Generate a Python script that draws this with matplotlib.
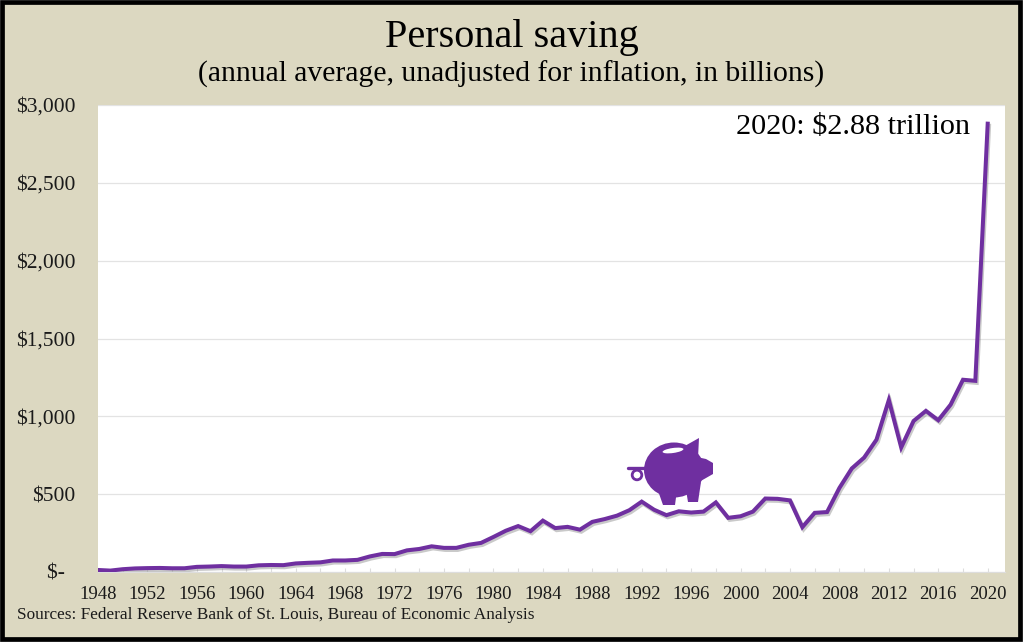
#!/usr/bin/env python3

import matplotlib
matplotlib.use("Agg")
import matplotlib.pyplot as plt
import matplotlib.patheffects as pe
from matplotlib.patches import Circle, Ellipse, Polygon, Rectangle

years = list(range(1948, 2021))
saving = [
    13, 9, 18, 23, 25, 26, 24, 24, 33, 35,
    38, 35, 35, 43, 45, 44, 55, 59, 62, 74,
    74, 78, 100, 116, 115, 139, 148, 165, 155, 155,
    175, 187, 225, 265, 295, 262, 330, 282, 290, 272,
    322, 340, 362, 397, 452, 400, 365, 390, 382, 388,
    447, 348, 358, 388, 472, 470, 460, 288, 380, 385,
    540, 665, 735, 850, 1105, 800, 970, 1035, 975, 1075,
    1235, 1228, 2880,
]
y_ticks = [0, 500, 1000, 1500, 2000, 2500, 3000]
y_labels = ["$-  ", "$500", "$1,000", "$1,500", "$2,000", "$2,500", "$3,000"]
x_label_years = list(range(1948, 2021, 4))

BG = "#DCD8C1"
PURPLE = "#6F2FA0"
W, H = 1024, 643

plt.rcParams["font.family"] = ["Liberation Serif", "DejaVu Serif"]

fig = plt.figure(figsize=(W / 100, H / 100), dpi=100, facecolor=BG)

# plot area in pixels: x 98-1005, y 105-572
ax = fig.add_axes([98 / W, 1 - 572 / H, (1005 - 98) / W, (572 - 105) / H])
ax.set_facecolor("white")
ax.plot(
    years,
    saving,
    color=PURPLE,
    linewidth=2.9,
    solid_joinstyle="miter",
    path_effects=[
        pe.SimpleLineShadow(offset=(1, -1.5), shadow_color="#888888", alpha=0.45),
        pe.Normal(),
    ],
    zorder=3,
)
ax.set_xlim(1948, 2021.4)
ax.set_ylim(0, 3000)
ax.set_yticks(y_ticks)
ax.set_yticklabels(y_labels, fontsize=15.5, color="#1a1a1a")
ax.set_xticks(range(1948, 2021, 2))
ax.set_xticklabels(
    [str(y) if y in x_label_years else "" for y in range(1948, 2021, 2)],
    fontsize=13.5,
    color="#1a1a1a",
)
ax.tick_params(axis="y", length=0, pad=16)
ax.tick_params(axis="x", direction="in", length=3, width=0.8, color="#dddddd", pad=10)
ax.grid(axis="y", color="#e3e3e3", linewidth=0.9)
ax.set_axisbelow(True)
for s in ["top", "right", "left"]:
    ax.spines[s].set_visible(False)
ax.spines["bottom"].set_color("#dddddd")

# overlay in pixel coordinates for the picture, frame and text
ov = fig.add_axes([0, 0, 1, 1], facecolor="none")
ov.set_xlim(0, W)
ov.set_ylim(H, 0)
ov.axis("off")

# outer frame
ov.add_patch(Rectangle((0, 0), W, H, fill=False, ec="white", lw=4, zorder=1))
ov.add_patch(Rectangle((1.5, 1.5), 1018.5, 637.5, fill=False, ec="black", lw=3.4, zorder=2))

ov.text(512, 37, "Personal saving", ha="center", va="center", fontsize=29, color="black")
ov.text(
    511, 74,
    "(annual average, unadjusted for inflation, in billions)",
    ha="center", va="center", fontsize=21.3, color="black",
)
ov.text(970, 127, "2020: $2.88 trillion", ha="right", va="center", fontsize=21.8, color="black")
ov.text(
    17, 615,
    "Sources: Federal Reserve Bank of St. Louis, Bureau of Economic Analysis",
    ha="left", va="center", fontsize=12.38, color="#1a1a1a",
)

# piggy bank
ov.add_patch(Ellipse((674, 470), 60, 55, fc=PURPLE, ec="none", zorder=5))
ov.add_patch(Polygon([(683, 447), (699, 438), (698, 458)], fc=PURPLE, ec="none", zorder=5))
ov.add_patch(Polygon(
    [(692, 456), (706, 459), (713, 463), (713, 474), (706, 478), (692, 486)],
    fc=PURPLE, ec="none", zorder=5,
))
ov.add_patch(Polygon([(656, 485), (677, 490), (675, 505), (663, 505)], fc=PURPLE, ec="none", zorder=5))
ov.add_patch(Polygon([(686, 490), (701, 482), (698, 502), (688, 502)], fc=PURPLE, ec="none", zorder=5))
ov.plot([628, 648], [468, 468], color=PURPLE, lw=2.4, solid_capstyle="round", zorder=5)
ov.add_patch(Circle((637, 475), 4.8, fill=False, ec=PURPLE, lw=2, zorder=5))
ov.add_patch(Ellipse((673, 450.5), 21, 5, angle=-8, fc="white", ec="none", zorder=6))

fig.savefig("out.png", dpi=100, facecolor=BG)
